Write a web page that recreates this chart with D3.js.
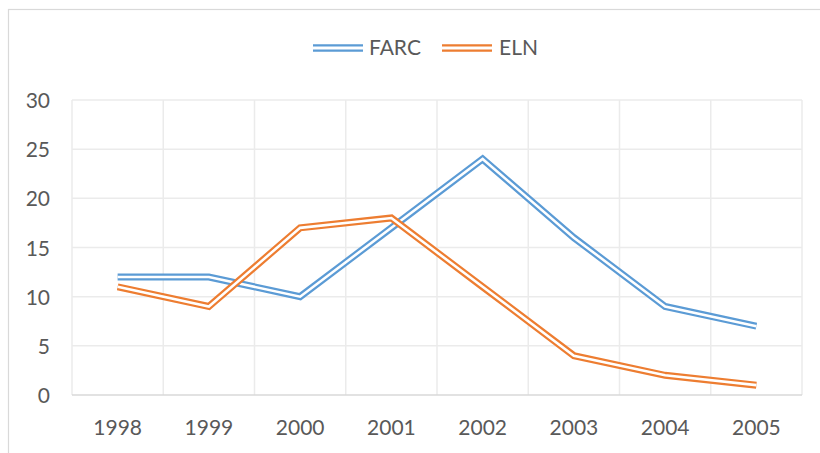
<!DOCTYPE html>
<html><head><meta charset="utf-8">
<script src="https://cdn.jsdelivr.net/npm/d3@7"></script>
<style>body{margin:0;background:#fff}svg{display:block}text{font-family:Lato,"Open Sans",sans-serif;fill:#595959}</style>
</head><body><svg id="c" width="820" height="453"></svg>
<script>
const years = ["1998","1999","2000","2001","2002","2003","2004","2005"];
const farc = [12,12,10,17,24,16,9,7];
const eln = [11,9,17,18,11,4,2,1];
const yTicks = [0,5,10,15,20,25,30];
const seriesNames = ["FARC","ELN"];
const colors = ["#5B9BD5","#ED7D31"];

const svg = d3.select("#c");
svg.append("rect").attr("x",8.5).attr("y",9.5).attr("width",900).attr("height",500).attr("fill","none").attr("stroke","#d9d9d9").attr("stroke-width",1.2);
const m = {l:72,r:802,t:100,b:395};
const x = d3.scaleBand().domain(years).range([m.l,m.r]);
const y = d3.scaleLinear().domain([0,30]).range([m.b,m.t]);

const g = svg.append("g");
g.selectAll(".hg").data(yTicks.filter(d=>d>0)).join("line")
 .attr("x1",m.l).attr("x2",m.r).attr("y1",d=>y(d)).attr("y2",d=>y(d)).attr("stroke","#ebebeb").attr("stroke-width",1.5);
const vb = years.map(d=>x(d)).concat([m.r]);
g.selectAll(".vg").data(vb).join("line")
 .attr("x1",d=>d).attr("x2",d=>d).attr("y1",m.t).attr("y2",m.b).attr("stroke","#ebebeb").attr("stroke-width",1.5);
g.append("line").attr("x1",m.l).attr("x2",m.r).attr("y1",m.b).attr("y2",m.b).attr("stroke","#d9d9d9").attr("stroke-width",1.5);

const ya = svg.append("g").attr("transform",`translate(${m.l-22},0)`).call(d3.axisLeft(y).tickValues(yTicks).tickSize(0).tickPadding(0));
ya.select(".domain").remove();
ya.selectAll("text").style("font-size","21px").attr("fill","#595959").attr("dy","0.36em");
const xa = svg.append("g").attr("transform",`translate(0,${m.b})`).call(d3.axisBottom(x).tickSize(0).tickPadding(0));
xa.select(".domain").remove();
xa.selectAll("text").style("font-size","21px").attr("fill","#595959").attr("y",40).attr("dy","0");

const line = d3.line().x((d,i)=>x(years[i])+x.bandwidth()/2).y(d=>y(d));
[farc,eln].forEach((s,k)=>{
  svg.append("path").attr("d",line(s)).attr("fill","none").attr("stroke",colors[k]).attr("stroke-width",7).attr("stroke-linejoin","miter");
  svg.append("path").attr("d",line(s)).attr("fill","none").attr("stroke","#fff").attr("stroke-width",2.6).attr("stroke-linejoin","miter");
});

const leg = [{x:313,tx:369},{x:442,tx:499}];
seriesNames.forEach((n,k)=>{
  const ly = 48;
  svg.append("line").attr("x1",leg[k].x).attr("x2",leg[k].x+50).attr("y1",ly).attr("y2",ly).attr("stroke",colors[k]).attr("stroke-width",7.5);
  svg.append("line").attr("x1",leg[k].x).attr("x2",leg[k].x+50).attr("y1",ly).attr("y2",ly).attr("stroke","#fff").attr("stroke-width",2.8);
  svg.append("text").attr("x",leg[k].tx).attr("y",55).style("font-size","21px").text(n);
});
</script></body></html>
